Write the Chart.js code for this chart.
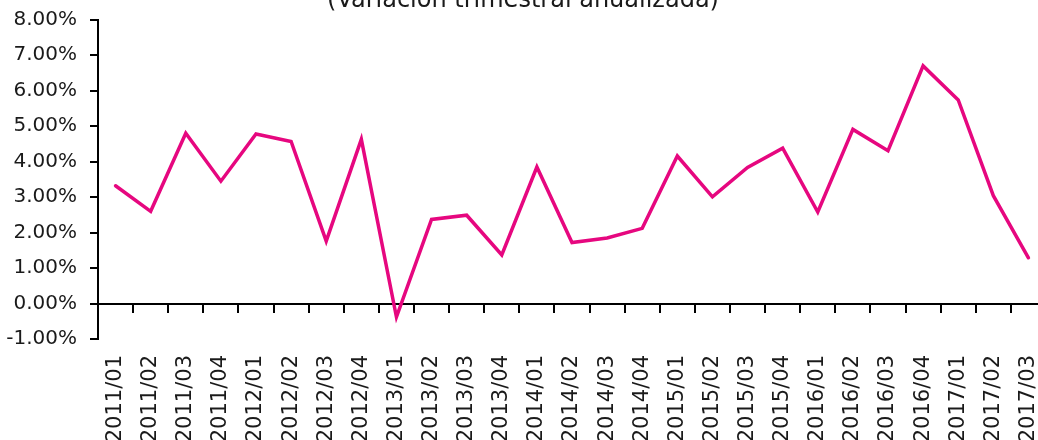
<!DOCTYPE html>
<html>
<head>
<meta charset="utf-8">
<script src="https://cdn.jsdelivr.net/npm/chart.js@4"></script>
<style>
  html, body { margin: 0; padding: 0; overflow: hidden; background: #fff; }
  #wrap { width: 1038px; height: 440px; overflow: hidden; }
  #chart { display: block; margin-top: -30px; }
</style>
</head>
<body>
<div id="wrap"><canvas id="chart" width="1046" height="470"></canvas></div>
<script>
// Quarters on the x axis
const quarters = [
  '2011/01', '2011/02', '2011/03', '2011/04',
  '2012/01', '2012/02', '2012/03', '2012/04',
  '2013/01', '2013/02', '2013/03', '2013/04',
  '2014/01', '2014/02', '2014/03', '2014/04',
  '2015/01', '2015/02', '2015/03', '2015/04',
  '2016/01', '2016/02', '2016/03', '2016/04',
  '2017/01', '2017/02', '2017/03'
];

// Annualized quarterly change, in percent
const variation = [
  3.32, 2.60, 4.80, 3.45,
  4.78, 4.57, 1.76, 4.63,
  -0.38, 2.37, 2.49, 1.37,
  3.85, 1.72, 1.85, 2.12,
  4.16, 3.01, 3.84, 4.38,
  2.58, 4.91, 4.31, 6.70,
  5.74, 3.04, 1.29
];

const yMin = -1;
const yMax = 8;
const yStep = 1;

const titleText = '(Variación trimestral anualizada)';

const fontFamily = '"DejaVu Sans", sans-serif';
const textColor = '#1a1a1a';
const lineColor = '#e6077f';

// keep the plot running to the right edge, like the original
function noSidePadding(scale) {
  scale.paddingLeft = 0;
  scale.paddingRight = 0;
}

const ctx = document.getElementById('chart').getContext('2d');
const chart = new Chart(ctx, {
  type: 'line',
  data: {
    labels: quarters,
    datasets: [{
      label: 'Variación',
      data: variation,
      borderColor: lineColor,
      backgroundColor: lineColor,
      borderWidth: 3.5,
      borderCapStyle: 'round',
      pointRadius: 0,
      tension: 0,
      fill: false,
      xAxisID: 'x',
      yAxisID: 'y'
    }]
  },
  options: {
    responsive: false,
    animation: false,
    layout: { padding: 0 },
    plugins: {
      legend: { display: false },
      tooltip: { enabled: false },
      title: {
        display: true,
        text: titleText,
        color: textColor,
        font: { family: fontFamily, size: 24, weight: 'normal' },
        padding: { top: 16, bottom: 5 }
      }
    },
    scales: {
      // labels below the plot
      x: {
        type: 'category',
        position: 'bottom',
        offset: true,
        grid: { display: false, drawTicks: false },
        border: { display: false },
        ticks: {
          color: textColor,
          font: { family: fontFamily, size: 21 },
          maxRotation: 90,
          minRotation: 90,
          autoSkip: false,
          padding: 16
        },
        afterFit: (scale) => {
          scale.height = 101;
          noSidePadding(scale);
        }
      },
      // the zero line with its tick marks
      x0: {
        type: 'category',
        axis: 'x',
        labels: quarters,
        position: { y: 0 },
        offset: true,
        grid: {
          display: true,
          offset: true,
          drawOnChartArea: false,
          drawTicks: true,
          tickLength: 8,
          color: '#000',
          lineWidth: 2
        },
        border: { display: true, color: '#000', width: 2 },
        ticks: { display: false },
        afterFit: (scale) => {
          scale.height = 0;
          noSidePadding(scale);
        }
      },
      y: {
        min: yMin,
        max: yMax,
        grid: {
          drawOnChartArea: false,
          drawTicks: true,
          tickLength: 8,
          color: '#000',
          lineWidth: 2
        },
        border: { display: true, color: '#000', width: 2 },
        ticks: {
          stepSize: yStep,
          color: textColor,
          font: { family: fontFamily, size: 20 },
          padding: 13,
          callback: (value) => value.toFixed(2) + '%'
        },
        afterFit: (scale) => { scale.width = 98; }
      }
    }
  }
});
</script>
</body>
</html>
